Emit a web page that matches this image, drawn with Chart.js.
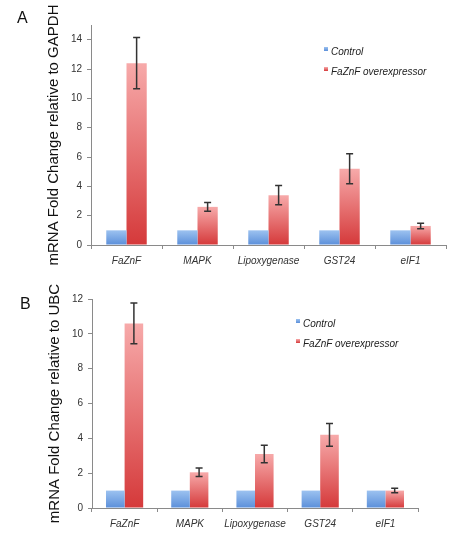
<!DOCTYPE html>
<html>
<head>
<meta charset="utf-8">
<script src="https://cdn.jsdelivr.net/npm/chart.js@4"></script>
<style>
  body { margin: 0; background: #fff; font-family: Arial, "Liberation Sans", sans-serif; }
  #wrap { position: relative; width: 459px; height: 540px; }
  .panel { position: absolute; left: 0; width: 459px; height: 270px; }
  .letter { position: absolute; font-size: 16px; line-height: 1; color: #111; }
  .legend { position: absolute; font-size: 10px; font-style: italic; color: #222; }
  .legend div { height: 20px; line-height: 20px; white-space: nowrap; }
  .legend span { display: inline-block; width: 4px; height: 4px; margin-right: 3px; vertical-align: 4px; }
</style>
</head>
<body>
<div id="wrap">
  <div class="panel" style="top:0"><canvas id="chartA" width="459" height="270"></canvas></div>
  <div class="panel" style="top:270px"><canvas id="chartB" width="459" height="270"></canvas></div>
  <div class="letter" style="left:17px;top:10px">A</div>
  <div class="letter" style="left:20px;top:296px">B</div>
  <div class="legend" id="legendA" style="left:324px;top:42px"></div>
  <div class="legend" id="legendB" style="left:296px;top:314px"></div>
</div>
<script>
// data
const categories = ["FaZnF", "MAPK", "Lipoxygenase", "GST24", "eIF1"];
const seriesNames = ["Control", "FaZnF overexpressor"];

const controlA = [1, 1, 1, 1, 1];
const overA = [12.4, 2.6, 3.4, 5.2, 1.3];
const overErrA = [1.74, 0.3, 0.65, 1.03, 0.19];

const controlB = [1, 1, 1, 1, 1];
const overB = [10.6, 2.05, 3.1, 4.2, 1.0];
const overErrB = [1.17, 0.24, 0.5, 0.65, 0.13];

const yMaxA = 15;
const yMaxB = 12;
const yStep = 2;

const blueStops = ["#9cc2f0", "#5b8fda"];
const redStops = ["#f7aaaa", "#d5393a"];
const FONT = "Arial, 'Liberation Sans', sans-serif";

function barGradient(ctx, stops) {
  const chart = ctx.chart;
  if (!chart.chartArea || ctx.type !== "data") return stops[1];
  const y = chart.scales.y;
  const top = y.getPixelForValue(ctx.raw);
  const bottom = y.getPixelForValue(0);
  const g = chart.ctx.createLinearGradient(0, top, 0, bottom);
  g.addColorStop(0, stops[0]);
  g.addColorStop(1, stops[1]);
  return g;
}

// error bars on top of the overexpressor bars
const errorBars = {
  id: "errorBars",
  afterDatasetsDraw(chart) {
    const c = chart.ctx;
    const y = chart.scales.y;
    chart.data.datasets.forEach((ds, di) => {
      if (!ds.errors) return;
      const meta = chart.getDatasetMeta(di);
      c.save();
      c.strokeStyle = "#333";
      c.lineWidth = 1.5;
      meta.data.forEach((bar, i) => {
        const hi = y.getPixelForValue(ds.data[i] + ds.errors[i]);
        const lo = y.getPixelForValue(ds.data[i] - ds.errors[i]);
        c.beginPath();
        c.moveTo(bar.x, hi); c.lineTo(bar.x, lo);
        c.moveTo(bar.x - 3.5, hi); c.lineTo(bar.x + 3.5, hi);
        c.moveTo(bar.x - 3.5, lo); c.lineTo(bar.x + 3.5, lo);
        c.stroke();
      });
      c.restore();
    });
  }
};

function makeChart(id, control, over, errs, yMax, title, opts) {
  return new Chart(document.getElementById(id), {
    type: "bar",
    data: {
      labels: categories,
      datasets: [
        {
          label: seriesNames[0],
          data: control,
          backgroundColor: (ctx) => barGradient(ctx, blueStops),
          categoryPercentage: 0.57,
          barPercentage: 1,
        },
        {
          label: seriesNames[1],
          data: over,
          errors: errs,
          backgroundColor: (ctx) => barGradient(ctx, redStops),
          categoryPercentage: 0.57,
          barPercentage: 1,
        },
      ],
    },
    options: {
      responsive: false,
      animation: false,
      layout: { padding: opts.padding },
      plugins: { legend: { display: false }, tooltip: { enabled: false } },
      scales: {
        x: {
          afterFit: (s) => { s.height = 25; },
          grid: { drawOnChartArea: false, tickLength: 4, color: "#8a8a8a" },
          border: { color: "#8a8a8a" },
          ticks: {
            color: "#333", padding: 6, maxRotation: 0, minRotation: 0, autoSkip: false,
            font: { family: FONT, size: 10, style: "italic" },
          },
        },
        y: {
          min: 0,
          max: yMax,
          afterFit: (s) => { s.width = opts.axisX; },
          grid: { drawOnChartArea: false, tickLength: 4, color: "#8a8a8a" },
          border: { color: "#8a8a8a" },
          ticks: { stepSize: yStep, includeBounds: false, color: "#333", padding: 5, font: { family: FONT, size: 10 } },
          title: {
            display: true,
            text: title,
            color: "#111",
            padding: { top: opts.titleX - 9, bottom: 0 },
            font: { family: FONT, size: 15 },
          },
        },
      },
    },
    plugins: [errorBars],
  });
}

function buildLegend(elId, chart) {
  const el = document.getElementById(elId);
  const stops = [blueStops, redStops];
  chart.data.datasets.forEach((ds, i) => {
    const row = document.createElement("div");
    const sw = document.createElement("span");
    sw.style.background = `linear-gradient(${stops[i][0]}, ${stops[i][1]})`;
    row.appendChild(sw);
    row.appendChild(document.createTextNode(ds.label));
    el.appendChild(row);
  });
}

const chartA = makeChart("chartA", controlA, overA, overErrA, yMaxA,
  "mRNA Fold Change relative to GAPDH",
  { padding: { top: 25, right: 13, bottom: 0, left: 0 }, axisX: 91, titleX: 54 });
const chartB = makeChart("chartB", controlB, overB, overErrB, yMaxB,
  "mRNA Fold Change relative to UBC",
  { padding: { top: 29, right: 41, bottom: 7, left: 0 }, axisX: 92, titleX: 55 });

buildLegend("legendA", chartA);
buildLegend("legendB", chartB);
</script>
</body>
</html>
